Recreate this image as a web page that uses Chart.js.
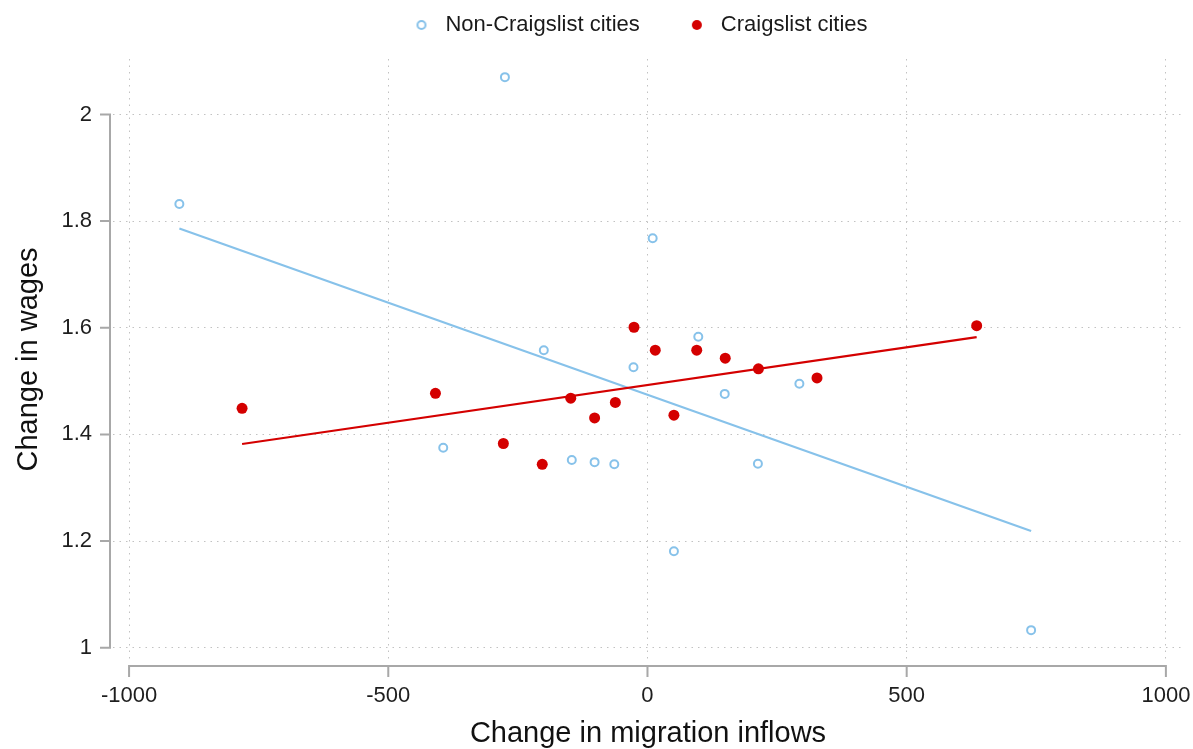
<!DOCTYPE html>
<html>
<head>
<meta charset="utf-8">
<script src="https://cdn.jsdelivr.net/npm/chart.js@4/dist/chart.umd.min.js"></script>
<style>
  html, body { margin: 0; padding: 0; background: #ffffff; }
  #wrap { width: 1193px; height: 749px; position: relative; }
</style>
</head>
<body>
<div id="wrap"><canvas id="c" width="1193" height="749"></canvas></div>
<script>
// ---------- data ----------
const xTickValues = [-1000, -500, 0, 500, 1000];
const xTickLabels = ['-1000', '-500', '0', '500', '1000'];
const yTickValues = [1, 1.2, 1.4, 1.6, 1.8, 2];
const yTickLabels = ['1', '1.2', '1.4', '1.6', '1.8', '2'];

const seriesNames = ['Non-Craigslist cities', 'Craigslist cities'];

const nonCraigslistX = [-903, -275, -200, -394, -146, -102, -64, -27, 10, 98, 149, 213, 293, 51, 740];
const nonCraigslistY = [1.832, 2.070, 1.558, 1.375, 1.352, 1.348, 1.344, 1.526, 1.768, 1.583, 1.476, 1.345, 1.495, 1.181, 1.033];

const craigslistX = [-782, -409, -278, -203, -148, -102, -62, -26, 15, 51, 95, 150, 214, 327, 635];
const craigslistY = [1.449, 1.477, 1.383, 1.344, 1.468, 1.431, 1.460, 1.601, 1.558, 1.436, 1.558, 1.543, 1.523, 1.506, 1.604];

// fitted lines (end points)
const fitNonCraigslistX = [-903, 740];
const fitNonCraigslistY = [1.786, 1.219];
const fitCraigslistX = [-782, 635];
const fitCraigslistY = [1.382, 1.5825];

const xTitle = 'Change in migration inflows';
const yTitle = 'Change in wages';

// ---------- styles ----------
const BLUE = 'rgb(135,194,234)';
const RED = 'rgb(212,0,0)';
const FONT = 'Liberation Sans, Arial, Helvetica, sans-serif';
const AXIS_GRAY = '#a8a8a8';
const GRID_GRAY = '#c2c2c2';

function toPoints(xs, ys) { return xs.map((x, i) => ({ x: x, y: ys[i] })); }

function makeMarker(fill, stroke, r, lw) {
  const c = document.createElement('canvas');
  c.width = 14; c.height = 14;
  const g = c.getContext('2d');
  g.beginPath();
  g.arc(7, 7, r, 0, Math.PI * 2);
  g.fillStyle = fill;
  g.fill();
  if (lw) { g.lineWidth = lw; g.strokeStyle = stroke; g.stroke(); }
  return c;
}
const legendMarkers = [makeMarker('#ffffff', BLUE, 4, 2), makeMarker(RED, RED, 5, 0)];

// axis lines + outward tick marks, offset from the plot region (Stata style)
const stataAxes = {
  id: 'stataAxes',
  afterDraw(chart) {
    const { ctx, chartArea, scales } = chart;
    const xs = scales.x, ys = scales.y;
    const ax = chartArea.left - 3;
    const ay = chartArea.bottom + 6;
    ctx.save();
    ctx.strokeStyle = AXIS_GRAY;
    ctx.lineWidth = 2;
    ctx.lineCap = 'butt';
    ctx.beginPath();
    const yTop = ys.getPixelForValue(yTickValues[yTickValues.length - 1]);
    const yBot = ys.getPixelForValue(yTickValues[0]);
    ctx.moveTo(ax, yTop - 1);
    ctx.lineTo(ax, yBot + 1);
    yTickValues.forEach(v => {
      const p = ys.getPixelForValue(v);
      ctx.moveTo(ax + 1, p);
      ctx.lineTo(ax - 10, p);
    });
    const xL = xs.getPixelForValue(xTickValues[0]);
    const xR = xs.getPixelForValue(xTickValues[xTickValues.length - 1]);
    ctx.moveTo(xL - 1, ay);
    ctx.lineTo(xR + 1, ay);
    xTickValues.forEach(v => {
      const p = xs.getPixelForValue(v);
      ctx.moveTo(p, ay - 1);
      ctx.lineTo(p, ay + 11);
    });
    ctx.stroke();
    ctx.restore();
  }
};

const ctx = document.getElementById('c').getContext('2d');
new Chart(ctx, {
  type: 'scatter',
  data: {
    datasets: [
      {
        label: seriesNames[0],
        data: toPoints(nonCraigslistX, nonCraigslistY),
        showLine: false,
        pointStyle: 'circle',
        pointRadius: 4,
        pointBorderWidth: 2,
        pointBackgroundColor: '#ffffff',
        pointBorderColor: BLUE,
        backgroundColor: '#ffffff',
        borderColor: BLUE,
        order: 2
      },
      {
        label: seriesNames[1],
        data: toPoints(craigslistX, craigslistY),
        showLine: false,
        pointStyle: 'circle',
        pointRadius: 5.5,
        pointBorderWidth: 0,
        pointBackgroundColor: RED,
        pointBorderColor: RED,
        backgroundColor: RED,
        borderColor: RED,
        order: 1
      },
      {
        label: 'fit-nc',
        data: toPoints(fitNonCraigslistX, fitNonCraigslistY),
        showLine: true,
        borderColor: BLUE,
        borderWidth: 2.2,
        pointRadius: 0,
        order: 4
      },
      {
        label: 'fit-c',
        data: toPoints(fitCraigslistX, fitCraigslistY),
        showLine: true,
        borderColor: RED,
        borderWidth: 2.2,
        pointRadius: 0,
        order: 3
      }
    ]
  },
  options: {
    responsive: false,
    animation: false,
    devicePixelRatio: 1,
    events: [],
    layout: { padding: { top: -30, right: -83, bottom: 0, left: 0 } },
    plugins: {
      tooltip: { enabled: false },
      legend: {
        display: true,
        position: 'top',
        fullSize: true,
        weight: 3000,
        labels: {
          usePointStyle: true,
          pointStyleWidth: 26,
          padding: 44,
          color: '#1a1a1a',
          font: { size: 22, family: FONT },
          generateLabels(chart) {
            const items = Chart.defaults.plugins.legend.labels.generateLabels(chart);
            return items
              .filter(it => it.datasetIndex < 2)
              .sort((a, b) => a.datasetIndex - b.datasetIndex)
              .map(it => Object.assign({}, it, { pointStyle: legendMarkers[it.datasetIndex] }));
          }
        }
      },
      subtitle: {
        display: true,
        text: '',
        padding: { top: 13, bottom: 0 },
        font: { size: 1, lineHeight: 0 }
      }
    },
    scales: {
      x: {
        type: 'linear',
        position: 'bottom',
        min: -1031,
        max: 1033,
        afterBuildTicks: s => { s.ticks = xTickValues.map(v => ({ value: v })); },
        afterFit: s => { s.height = 89; s.paddingLeft = 0; s.paddingRight = 10; },
        ticks: {
          callback: v => xTickLabels[xTickValues.indexOf(v)],
          font: { size: 22, family: FONT },
          color: '#1e1e1e',
          padding: 23,
          maxRotation: 0,
          autoSkip: false
        },
        grid: { color: GRID_GRAY, lineWidth: 1, drawTicks: false },
        border: { display: false, dash: [1.5, 5] },
        title: {
          display: true,
          text: xTitle,
          color: '#111111',
          font: { size: 29, family: FONT, lineHeight: 1 },
          padding: { top: 0, bottom: 1 }
        }
      },
      y: {
        type: 'linear',
        position: 'left',
        min: 0.977,
        max: 2.104,
        afterBuildTicks: s => { s.ticks = yTickValues.map(v => ({ value: v })); },
        afterFit: s => { s.width = 113; s.paddingTop = 0; s.paddingBottom = 0; },
        ticks: {
          callback: v => yTickLabels[yTickValues.indexOf(v)],
          font: { size: 22, family: FONT },
          color: '#1e1e1e',
          padding: 21,
          autoSkip: false
        },
        grid: { color: GRID_GRAY, lineWidth: 1, drawTicks: false },
        border: { display: false, dash: [1.5, 5] },
        title: {
          display: true,
          text: yTitle,
          color: '#111111',
          font: { size: 29, family: FONT, lineHeight: 1 },
          padding: { top: 14, bottom: 0 }
        }
      }
    }
  },
  plugins: [stataAxes]
});
</script>
</body>
</html>
